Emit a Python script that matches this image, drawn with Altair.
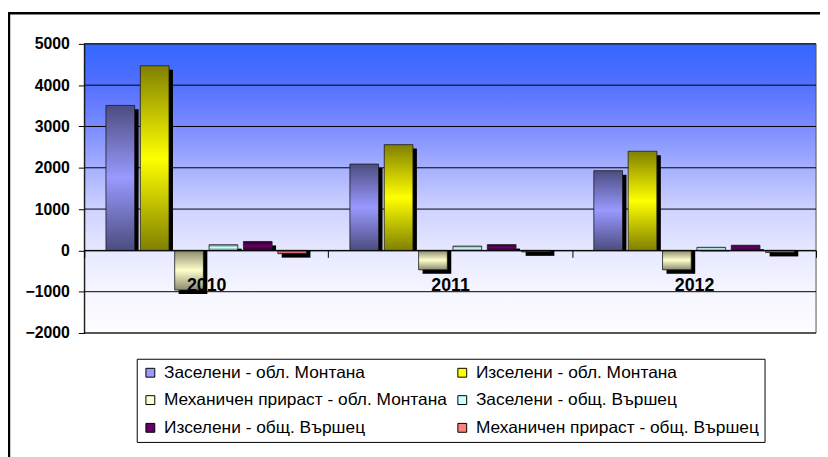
import altair as alt
import pandas as pd

# ---------------- data ----------------
years = ["2010", "2011", "2012"]
series = [
    "Заселени - обл. Монтана",
    "Изселени - обл. Монтана",
    "Механичен прираст - обл. Монтана",
    "Заселени - общ. Вършец",
    "Изселени - общ. Вършец",
    "Механичен прираст - общ. Вършец",
]
zas_mon = [3510, 2090, 1930]
izs_mon = [4470, 2560, 2400]
mech_mon = [-960, -470, -470]
zas_var = [137, 104, 75]
izs_var = [216, 140, 125]
mech_var = [-79, -36, -50]
y_ticks = [-2000, -1000, 0, 1000, 2000, 3000, 4000, 5000]

# ---------------- styles ----------------
fill_colors = ["#9999FF", "#FFFF00", "#FFFFCC", "#CCFFFF", "#660066", "#FF8080"]
dark_colors = ["#4C4C80", "#808000", "#8A8A6E", "#668080", "#2A002A", "#804040"]
bg_stops = [("#3366FF", 0.0), ("#5470FF", 0.143), ("#7B8CFF", 0.286), ("#A6B0FF", 0.43),
            ("#CED2FF", 0.57), ("#E6E8FF", 0.714), ("#F6F6FF", 0.857), ("#FDFDFF", 1.0)]
FONT = "Liberation Sans"
SHADOW = 4

values_by_series = [zas_mon, izs_mon, mech_mon, zas_var, izs_var, mech_var]
rows = []
for s, vals in zip(series, values_by_series):
    for yr, v in zip(years, vals):
        rows.append({"year": yr, "series": s, "value": v})
df = pd.DataFrame(rows)

W, H = 739, 292
YMIN, YMAX = y_ticks[0], y_ticks[-1]
zero_px = H * YMAX / (YMAX - YMIN)
x_axis_offset = -(H - zero_px)
band_w = W / len(years)

x_enc = alt.X(
    "year:N",
    scale=alt.Scale(domain=years, paddingInner=0, paddingOuter=0),
    axis=alt.Axis(title=None, orient="bottom", offset=x_axis_offset, labelAngle=0,
                  labelFont=FONT, labelFontSize=18, labelFontWeight="bold", labelColor="black",
                  labelPadding=19, tickSize=7, tickColor="black", tickBand="extent",
                  domainColor="black", domainWidth=1, grid=False, zindex=1),
)
xoff_scale_kw = dict(domain=series, paddingInner=0.165, paddingOuter=0.632)
xoff_enc = alt.XOffset("series:N", scale=alt.Scale(**xoff_scale_kw, range=[0, band_w]))
xoff_shadow = alt.XOffset("series:N",
                          scale=alt.Scale(**xoff_scale_kw, range=[SHADOW, band_w + SHADOW]))
y_scale = alt.Scale(domain=[YMIN, YMAX], nice=False, zero=False)
y_axis = alt.Axis(title=None, values=y_ticks, format="d", grid=False, labelFont=FONT,
                  labelFontSize=16, labelFontWeight="bold", labelColor="black", labelPadding=9,
                  tickSize=6, tickColor="black", domainColor="black", zindex=1)
y_enc = alt.Y("value:Q", scale=y_scale, axis=y_axis)

# plot background gradient
bg = alt.Chart(pd.DataFrame({"top": [YMAX], "bottom": [YMIN]})).mark_rect(
    fill=alt.LinearGradient(gradient="linear",
                            stops=[alt.GradientStop(color=c, offset=o) for c, o in bg_stops],
                            x1=0, x2=0, y1=0, y2=1),
    stroke="#555555", strokeWidth=1,
).encode(y=alt.Y("top:Q", scale=y_scale, axis=y_axis), y2="bottom:Q")

grid = alt.Chart(pd.DataFrame({"v": y_ticks})).mark_rule(color="black", strokeWidth=1).encode(
    y=alt.Y("v:Q", scale=y_scale, axis=y_axis)
)

shadow = alt.Chart(df).mark_bar(color="black", yOffset=SHADOW).encode(
    x=x_enc, xOffset=xoff_shadow, y=y_enc, y2=alt.Y2(datum=0)
)

bar_layers = []
for s, c, d in zip(series, fill_colors, dark_colors):
    grad = alt.LinearGradient(
        gradient="linear",
        stops=[alt.GradientStop(color=d, offset=0), alt.GradientStop(color=c, offset=0.5),
               alt.GradientStop(color=d, offset=1)],
        x1=0, x2=0, y1=0, y2=1,
    )
    bar_layers.append(
        alt.Chart(df).transform_filter(alt.datum.series == s)
        .mark_bar(fill=grad, stroke="#1a1a1a", strokeWidth=0.8)
        .encode(x=x_enc, xOffset=xoff_enc, y=y_enc, y2=alt.Y2(datum=0))
    )

legend_layer = alt.Chart(df).transform_filter("false").mark_bar().encode(
    x=x_enc, xOffset=xoff_enc, y=y_enc,
    color=alt.Color("series:N", scale=alt.Scale(domain=series, range=fill_colors), title=None,
                    legend=alt.Legend(orient="none", legendX=53, legendY=318, columns=2,
                                      direction="horizontal",
                                      strokeColor="black", fillColor="white", padding=5,
                                      labelFont=FONT, labelFontSize=17.5, labelColor="black",
                                      labelLimit=600, symbolType="square", symbolSize=80,
                                      symbolStrokeColor="black", symbolStrokeWidth=1,
                                      symbolOpacity=1, rowPadding=9, columnPadding=6,
                                      labelOffset=5)),
)

frame = alt.Chart(pd.DataFrame({"k": [0]})).mark_rect(
    fillOpacity=0, stroke="black", strokeWidth=2.5
).encode(x=alt.value(-76), x2=alt.value(900), y=alt.value(-31), y2=alt.value(600))

chart = alt.layer(bg, grid, shadow, *bar_layers, legend_layer, frame).resolve_scale(
    xOffset="independent"
).properties(
    width=W, height=H,
    autosize=alt.AutoSizeParams(type="none"),
    padding={"left": 77, "top": 34, "right": 4, "bottom": 123},
).configure_view(strokeWidth=0)

chart.save("out.html", embed_options={"renderer": "svg", "actions": False})
